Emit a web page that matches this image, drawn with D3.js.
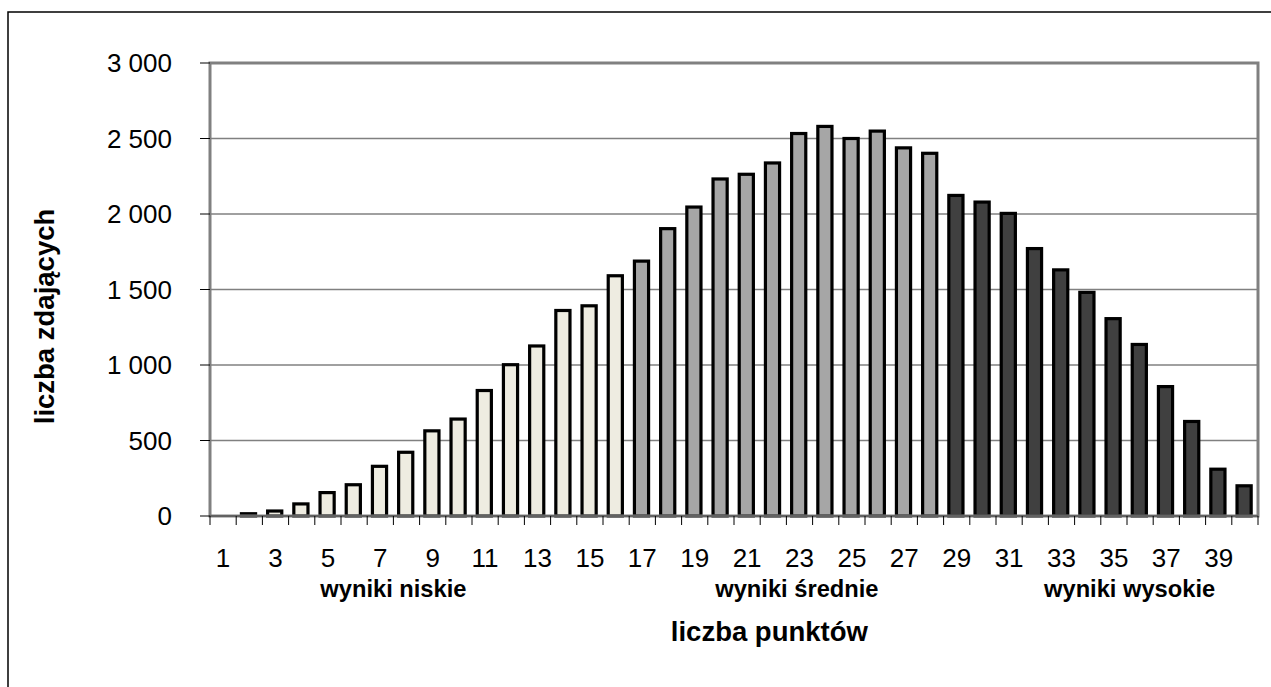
<!DOCTYPE html>
<html>
<head>
<meta charset="utf-8">
<script src="https://cdn.jsdelivr.net/npm/d3@7/dist/d3.min.js"></script>
<style>
  html, body { margin: 0; padding: 0; background: #fff; }
  svg { display: block; font-family: "Liberation Sans", Arial, sans-serif; }
</style>
</head>
<body>
<svg id="chart" width="1271" height="687"></svg>
<script>
// ---- data ----
const points = d3.range(1, 41); // categories 1..40 (liczba punktów)
const counts = [
  0, 15, 33, 80, 155, 207, 329, 422, 564, 642,
  831, 1002, 1126, 1361, 1392, 1591, 1688, 1903, 2046, 2232,
  2263, 2338, 2533, 2580, 2500, 2549, 2438, 2402, 2123, 2079,
  2004, 1771, 1630, 1481, 1307, 1136, 857, 626, 310, 200
];
const groupNames = ["wyniki niskie", "wyniki średnie", "wyniki wysokie"];
const groupStart = [1, 17, 29];      // first category of each group
const groupLabelAt = [7.5, 22.9, 35.6]; // category position of each group label
const yTicks = [0, 500, 1000, 1500, 2000, 2500, 3000];
const xTickLabels = points.filter(p => p % 2 === 1);
const yTitle = "liczba zdających";
const xTitle = "liczba punktów";
const groupColors = ["#EEECE1", "#A6A6A6", "#404040"];

// ---- layout ----
const svg = d3.select("#chart");
const margin = { left: 210, right: 13, top: 63, bottom: 171 };
const W = 1271, H = 687;
const pw = W - margin.left - margin.right;
const ph = H - margin.top - margin.bottom;

const x = d3.scaleBand().domain(points).range([margin.left, margin.left + pw]).paddingInner(0).paddingOuter(0);
const y = d3.scaleLinear().domain([0, 3000]).range([margin.top + ph, margin.top]);
// continuous position helper: category value -> pixel (centre of band)
const xc = d3.scaleLinear().domain([1, 40]).range([x(1) + x.bandwidth() / 2, x(40) + x.bandwidth() / 2]);

const loc = d3.formatLocale({ decimal: ",", thousands: "\u00a0", grouping: [3], currency: ["", " zł"] });
const fmt = loc.format(",d");

function groupOf(p) {
  let g = 0;
  groupStart.forEach((s, i) => { if (p >= s) g = i; });
  return g;
}

// outer frame
svg.append("rect")
  .attr("x", 8).attr("y", 12).attr("width", 1300).attr("height", 720)
  .attr("fill", "none").attr("stroke", "#000").attr("stroke-width", 1.5);

// gridlines
svg.append("g").selectAll("line").data(yTicks.filter(t => t > 0 && t < 3000)).join("line")
  .attr("x1", margin.left).attr("x2", margin.left + pw)
  .attr("y1", d => y(d)).attr("y2", d => y(d))
  .attr("stroke", "#808080").attr("stroke-width", 1.5);

// bars
const bw = x.bandwidth() * 0.54;
svg.append("g").selectAll("rect").data(points.map((p, i) => ({ p, v: counts[i] })).filter(d => d.v > 0)).join("rect")
  .attr("x", d => x(d.p) + (x.bandwidth() - bw) / 2 - 0.8)
  .attr("width", bw)
  .attr("y", d => y(d.v))
  .attr("height", d => y(0) - y(d.v))
  .attr("fill", d => groupColors[groupOf(d.p)])
  .attr("stroke", "#000").attr("stroke-width", 3.2);

// plot border
svg.append("rect")
  .attr("x", margin.left).attr("y", margin.top).attr("width", pw).attr("height", ph)
  .attr("fill", "none").attr("stroke", "#808080").attr("stroke-width", 3);

// y axis ticks + labels
const yAxis = svg.append("g");
yAxis.selectAll("line").data(yTicks).join("line")
  .attr("x1", margin.left - 10).attr("x2", margin.left)
  .attr("y1", d => y(d)).attr("y2", d => y(d))
  .attr("stroke", "#000").attr("stroke-width", 1);
yAxis.selectAll("text").data(yTicks).join("text")
  .attr("x", margin.left - 38).attr("y", d => y(d)).attr("dy", "0.36em")
  .attr("text-anchor", "end").attr("font-size", 26).attr("fill", "#000")
  .text(d => fmt(d));

// x axis line + ticks at category boundaries
const xAxis = svg.append("g");
xAxis.append("line")
  .attr("x1", margin.left).attr("x2", margin.left + pw)
  .attr("y1", y(0)).attr("y2", y(0)).attr("stroke", "#444").attr("stroke-width", 1);
const boundaries = points.map(p => x(p)).concat([x(40) + x.bandwidth()]);
xAxis.selectAll("line.tk").data(boundaries).join("line").attr("class", "tk")
  .attr("x1", d => d).attr("x2", d => d)
  .attr("y1", y(0)).attr("y2", y(0) + 9)
  .attr("stroke", "#000").attr("stroke-width", 1);
xAxis.selectAll("text").data(xTickLabels).join("text")
  .attr("x", d => x(d) + x.bandwidth() / 2).attr("y", y(0) + 51)
  .attr("text-anchor", "middle").attr("font-size", 26).attr("fill", "#000")
  .text(d => d);

// group labels
svg.append("g").selectAll("text").data(groupNames).join("text")
  .attr("x", (d, i) => xc(groupLabelAt[i])).attr("y", y(0) + 81)
  .attr("text-anchor", "middle").attr("font-size", 23.7).attr("font-weight", "bold")
  .text(d => d);

// axis titles
svg.append("text")
  .attr("x", xc(21.85)).attr("y", 641)
  .attr("text-anchor", "middle").attr("font-size", 27.5).attr("font-weight", "bold")
  .text(xTitle);
svg.append("text")
  .attr("transform", `translate(54, ${(y(0) + y(3000)) / 2 + 27}) rotate(-90)`)
  .attr("text-anchor", "middle").attr("font-size", 27.5).attr("font-weight", "bold")
  .text(yTitle);
</script>
</body>
</html>
